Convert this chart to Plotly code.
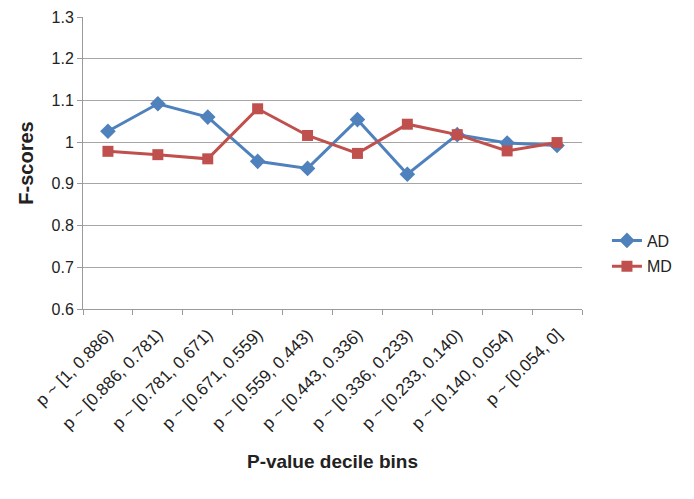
import plotly.graph_objects as go

categories = ["p ~ [1, 0.886)", "p ~ [0.886, 0.781)", "p ~ [0.781, 0.671)", "p ~ [0.671, 0.559)",
              "p ~ [0.559, 0.443)", "p ~ [0.443, 0.336)", "p ~ [0.336, 0.233)", "p ~ [0.233, 0.140)",
              "p ~ [0.140, 0.054)", "p ~ [0.054, 0]"]
ad_values = [1.026, 1.092, 1.060, 0.954, 0.937, 1.054, 0.923, 1.018, 0.998, 0.992]
md_values = [0.978, 0.970, 0.960, 1.080, 1.016, 0.973, 1.043, 1.018, 0.979, 0.999]
y_ticks = [0.6, 0.7, 0.8, 0.9, 1.0, 1.1, 1.2, 1.3]
y_ticktext = ["0.6", "0.7", "0.8", "0.9", "1", "1.1", "1.2", "1.3"]

font_family = "Liberation Sans, Arial, sans-serif"

fig = go.Figure()
fig.add_trace(go.Scatter(x=categories, y=ad_values, name="AD", mode="lines+markers",
                         legendgroup="ad",
                         line=dict(color="#4F81BD", width=3),
                         marker=dict(symbol="diamond", size=12, color="#4F81BD")))
fig.add_trace(go.Scatter(x=categories, y=md_values, name="MD", mode="lines+markers",
                         legendgroup="md",
                         line=dict(color="#C0504D", width=3),
                         marker=dict(symbol="square", size=11, color="#C0504D")))

fig.update_layout(
    width=678, height=483,
    margin=dict(l=75, r=92, t=9, b=182),
    plot_bgcolor="white", paper_bgcolor="white",
    font=dict(family=font_family, color="#222222"),
    legend=dict(x=1.05, xanchor="left", y=0.19, yanchor="middle",
                font=dict(size=16, color="#222222"), tracegroupgap=2),
    xaxis=dict(
        type="category", tickangle=-45, tickfont=dict(size=17),
        showgrid=False, showline=True, linecolor="#9A9A9A", linewidth=1,
        ticks="outside", tickson="boundaries", tickcolor="#9A9A9A", ticklen=5,
        ticklabelstandoff=8,
        range=[-0.5, 9.5], automargin=False,
        title=dict(text="<b>P-value decile bins</b>", font=dict(size=19), standoff=22),
    ),
    yaxis=dict(
        range=[0.6, 1.3], tickvals=y_ticks, ticktext=y_ticktext,
        tickfont=dict(size=16), showgrid=True, gridcolor="#A6A6A6", gridwidth=1,
        showline=True, linecolor="#9A9A9A", linewidth=1,
        ticks="outside", tickcolor="#9A9A9A", ticklen=5,
        ticklabeloverflow="allow",
        zeroline=False, automargin=False,
        title=dict(text="<b>F-scores</b>", font=dict(size=20), standoff=12),
    ),
)

fig.write_html("out.html")
